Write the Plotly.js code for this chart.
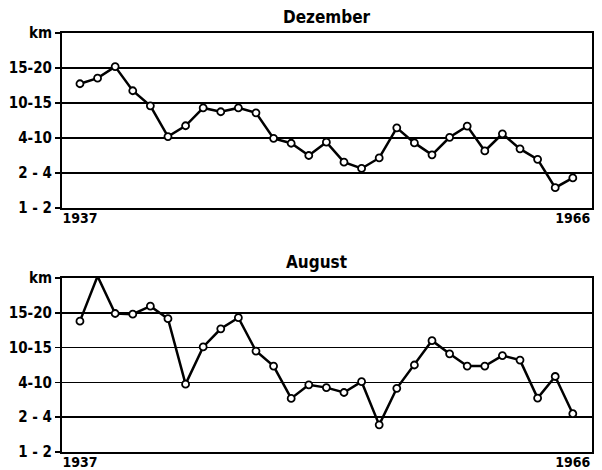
<!DOCTYPE html>
<html>
<head>
<meta charset="utf-8">
<script src="https://cdn.plot.ly/plotly-3.0.1.min.js"></script>
<style>html,body{margin:0;padding:0;background:#fff;}#chart{width:602px;height:470px;}</style>
</head>
<body>
<div id="chart"></div>
<script>
// Visibility classes (index): 0="1 - 2", 1="2 - 4", 2="4-10", 3="10-15", 4="15-20", 5="km"
const yTickLabels = ["1 - 2", "2 - 4", "4-10", "10-15", "15-20", "km"];
const xTickLabels = ["1937", "1966"];
const nPoints = 29;
const dezember = [3.55, 3.71, 4.04, 3.35, 2.92, 2.04, 2.35, 2.86, 2.75, 2.86, 2.72, 1.99, 1.85,
                  1.50, 1.88, 1.31, 1.13, 1.43, 2.29, 1.86, 1.52, 2.02, 2.34, 1.63, 2.12, 1.69, 1.39, 0.58, 0.86];
const august = [3.76, 5.05, 3.98, 3.96, 4.19, 3.83, 1.95, 3.02, 3.54, 3.86, 2.90, 2.47, 1.54,
                1.93, 1.85, 1.71, 2.02, 0.78, 1.83, 2.50, 3.20, 2.82, 2.47, 2.47, 2.77, 2.64, 1.55, 2.17, 1.10];
const xIdx = Array.from({length: nPoints}, (_, i) => i);

const FONT = '"Liberation Sans Narrow", "DejaVu Sans Condensed", "Liberation Sans", sans-serif';

function trace(y, xa, ya) {
  return {
    x: xIdx, y: y, xaxis: xa, yaxis: ya, type: 'scatter', mode: 'lines+markers',
    line: {color: '#000', width: 2.5},
    marker: {symbol: 'circle', size: 7, color: '#fff', line: {color: '#000', width: 1.8}},
    cliponaxis: false, hoverinfo: 'skip'
  };
}

function yaxis(domain, anchor) {
  return {
    domain: domain, anchor: anchor, range: [0, 5],
    tickvals: [0, 1, 2, 3, 4, 5], ticktext: yTickLabels,
    ticks: 'outside', ticklen: 5, tickwidth: 1.5, tickcolor: '#000',
    showgrid: true, gridcolor: '#000', gridwidth: 1.7,
    showline: true, linecolor: '#000', linewidth: 2, mirror: true,
    zeroline: false,
    tickfont: {family: FONT, size: 15, color: '#000', weight: 'bold'}
  };
}
function xaxis(anchor) {
  return {
    anchor: anchor, range: [-1.02, 29.09], domain: [0, 1],
    tickvals: [0, nPoints - 1], ticktext: xTickLabels,
    ticks: '', showgrid: false, zeroline: false,
    showline: true, linecolor: '#000', linewidth: 2, mirror: true,
    ticklabelstandoff: -4,
    tickfont: {family: FONT, size: 14, color: '#000', weight: 'bold'}
  };
}

const layout = {
  width: 602, height: 470,
  margin: {l: 62, r: 10, t: 33, b: 18},
  paper_bgcolor: '#fff', plot_bgcolor: '#fff',
  showlegend: false,
  xaxis: xaxis('y'),
  yaxis: yaxis([0.5823, 1], 'x'),
  xaxis2: xaxis('y2'),
  yaxis2: yaxis([0, 0.4153], 'x2'),
  annotations: [
    {text: 'Dezember', xref: 'paper', yref: 'paper', x: 0.5, y: 1, yshift: 4, xanchor: 'center', yanchor: 'bottom', showarrow: false,
     font: {family: FONT, size: 17, color: '#000', weight: 'bold'}},
    {text: 'August', xref: 'paper', yref: 'paper', x: 0.48, y: 0.4153, yshift: 4, xanchor: 'center', yanchor: 'bottom', showarrow: false,
     font: {family: FONT, size: 17, color: '#000', weight: 'bold'}}
  ]
};

Plotly.newPlot('chart', [trace(dezember, 'x', 'y'), trace(august, 'x2', 'y2')], layout, {displayModeBar: false, staticPlot: true});
</script>
</body>
</html>
